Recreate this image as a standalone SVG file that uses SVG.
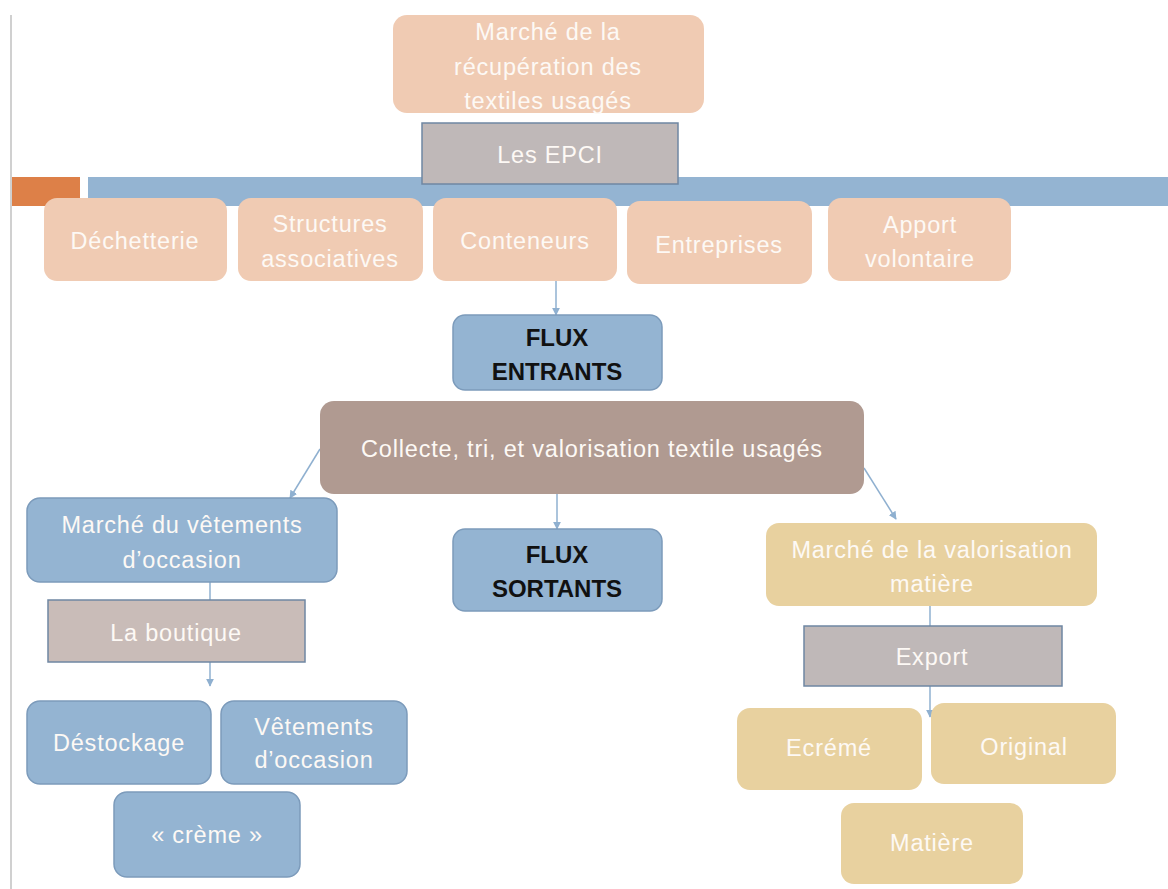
<svg xmlns="http://www.w3.org/2000/svg" width="1168" height="889" viewBox="0 0 1168 889">
  <defs>
    <marker id="arrow" viewBox="0 0 10 10" refX="9" refY="5" markerWidth="8" markerHeight="8" orient="auto" markerUnits="userSpaceOnUse">
      <path d="M0,0 L10,5 L0,10 z" fill="#8fb0d0"/>
    </marker>
    <style>
      .peach { fill: #f0cbb3; }
      .blue { fill: #94b4d2; stroke: #7c9bbb; stroke-width: 1.5; }
      .gold { fill: #e8d19f; }
      .grey { fill: #bfb8b8; stroke: #6f87a3; stroke-width: 1.5; }
      .rose { fill: #c9bcb8; stroke: #6f87a3; stroke-width: 1.5; }
      .brown { fill: #b09a91; }
      .lbl { font-family: "Liberation Sans", Arial, sans-serif; font-size: 23.5px; letter-spacing: 0.8px; fill: #fdf9f5; text-anchor: middle; dominant-baseline: central; }
      .bold { font-family: "Liberation Sans", Arial, sans-serif; font-size: 24px; font-weight: bold; fill: #111111; text-anchor: middle; dominant-baseline: central; }
      .conn { stroke: #8fb0d0; stroke-width: 1.5; fill: none; }
    </style>
  </defs>

  <rect width="1168" height="889" fill="#ffffff"/>

  <!-- page margin rule and header band -->
  <rect x="10" y="15" width="2" height="874" fill="#d0d0d0"/>
  <rect x="12" y="177" width="68" height="29" fill="#dd8048"/>
  <rect x="88" y="177" width="1080" height="29" fill="#94b4d2"/>

  <!-- connectors -->
  <g id="connectors">
    <line class="conn" x1="556" y1="281" x2="556" y2="315" marker-end="url(#arrow)"/>
    <line class="conn" x1="320" y1="449" x2="290" y2="498" marker-end="url(#arrow)"/>
    <line class="conn" x1="557" y1="494" x2="557" y2="529" marker-end="url(#arrow)"/>
    <line class="conn" x1="864" y1="468" x2="896" y2="519" marker-end="url(#arrow)"/>
    <line class="conn" x1="210" y1="582" x2="210" y2="600"/>
    <line class="conn" x1="210" y1="662" x2="210" y2="686" marker-end="url(#arrow)"/>
    <line class="conn" x1="930" y1="606" x2="930" y2="626"/>
    <line class="conn" x1="930" y1="686" x2="930" y2="717" marker-end="url(#arrow)"/>
  </g>

  <g id="marche-recuperation">
    <rect class="peach" x="393" y="15" width="311" height="98" rx="14"/>
    <text class="lbl" x="548" y="32">Marché de la</text>
    <text class="lbl" x="548" y="67">récupération des</text>
    <text class="lbl" x="548" y="101">textiles usagés</text>
  </g>

  <g id="epci">
    <rect class="grey" x="422" y="123" width="256" height="61"/>
    <text class="lbl" x="550" y="155">Les EPCI</text>
  </g>

  <g id="dechetterie">
    <rect class="peach" x="44" y="198" width="183" height="83" rx="13"/>
    <text class="lbl" x="135" y="241">Déchetterie</text>
  </g>
  <g id="structures">
    <rect class="peach" x="238" y="198" width="185" height="83" rx="13"/>
    <text class="lbl" x="330" y="224">Structures</text>
    <text class="lbl" x="330" y="259">associatives</text>
  </g>
  <g id="conteneurs">
    <rect class="peach" x="433" y="198" width="184" height="83" rx="13"/>
    <text class="lbl" x="525" y="241">Conteneurs</text>
  </g>
  <g id="entreprises">
    <rect class="peach" x="627" y="201" width="185" height="83" rx="13"/>
    <text class="lbl" x="719" y="245">Entreprises</text>
  </g>
  <g id="apport">
    <rect class="peach" x="828" y="198" width="183" height="83" rx="13"/>
    <text class="lbl" x="920" y="225">Apport</text>
    <text class="lbl" x="920" y="259">volontaire</text>
  </g>

  <g id="flux-entrants">
    <rect class="blue" x="453" y="315" width="209" height="75" rx="12"/>
    <text class="bold" x="557" y="337">FLUX</text>
    <text class="bold" x="557" y="371">ENTRANTS</text>
  </g>

  <g id="collecte">
    <rect class="brown" x="320" y="401" width="544" height="93" rx="14"/>
    <text class="lbl" x="592" y="449">Collecte, tri, et valorisation textile usagés</text>
  </g>

  <g id="marche-vetements">
    <rect class="blue" x="27" y="498" width="310" height="84" rx="13"/>
    <text class="lbl" x="182" y="525">Marché du vêtements</text>
    <text class="lbl" x="182" y="560">d’occasion</text>
  </g>

  <g id="flux-sortants">
    <rect class="blue" x="453" y="529" width="209" height="82" rx="12"/>
    <text class="bold" x="557" y="554">FLUX</text>
    <text class="bold" x="557" y="588">SORTANTS</text>
  </g>

  <g id="marche-valorisation">
    <rect class="gold" x="766" y="523" width="331" height="83" rx="13"/>
    <text class="lbl" x="932" y="550">Marché de la valorisation</text>
    <text class="lbl" x="932" y="584">matière</text>
  </g>

  <g id="boutique">
    <rect class="rose" x="48" y="600" width="257" height="62"/>
    <text class="lbl" x="176" y="633">La boutique</text>
  </g>

  <g id="export">
    <rect class="grey" x="804" y="626" width="258" height="60"/>
    <text class="lbl" x="932" y="657">Export</text>
  </g>

  <g id="destockage">
    <rect class="blue" x="27" y="701" width="184" height="83" rx="13"/>
    <text class="lbl" x="119" y="743">Déstockage</text>
  </g>
  <g id="vetements-occasion">
    <rect class="blue" x="221" y="701" width="186" height="83" rx="13"/>
    <text class="lbl" x="314" y="727">Vêtements</text>
    <text class="lbl" x="314" y="760">d’occasion</text>
  </g>
  <g id="creme">
    <rect class="blue" x="114" y="792" width="186" height="85" rx="13"/>
    <text class="lbl" x="207" y="835">« crème »</text>
  </g>

  <g id="ecreme">
    <rect class="gold" x="737" y="708" width="185" height="82" rx="13"/>
    <text class="lbl" x="829" y="748">Ecrémé</text>
  </g>
  <g id="original">
    <rect class="gold" x="931" y="703" width="185" height="81" rx="13"/>
    <text class="lbl" x="1024" y="747">Original</text>
  </g>
  <g id="matiere">
    <rect class="gold" x="841" y="803" width="182" height="81" rx="13"/>
    <text class="lbl" x="932" y="843">Matière</text>
  </g>
</svg>
